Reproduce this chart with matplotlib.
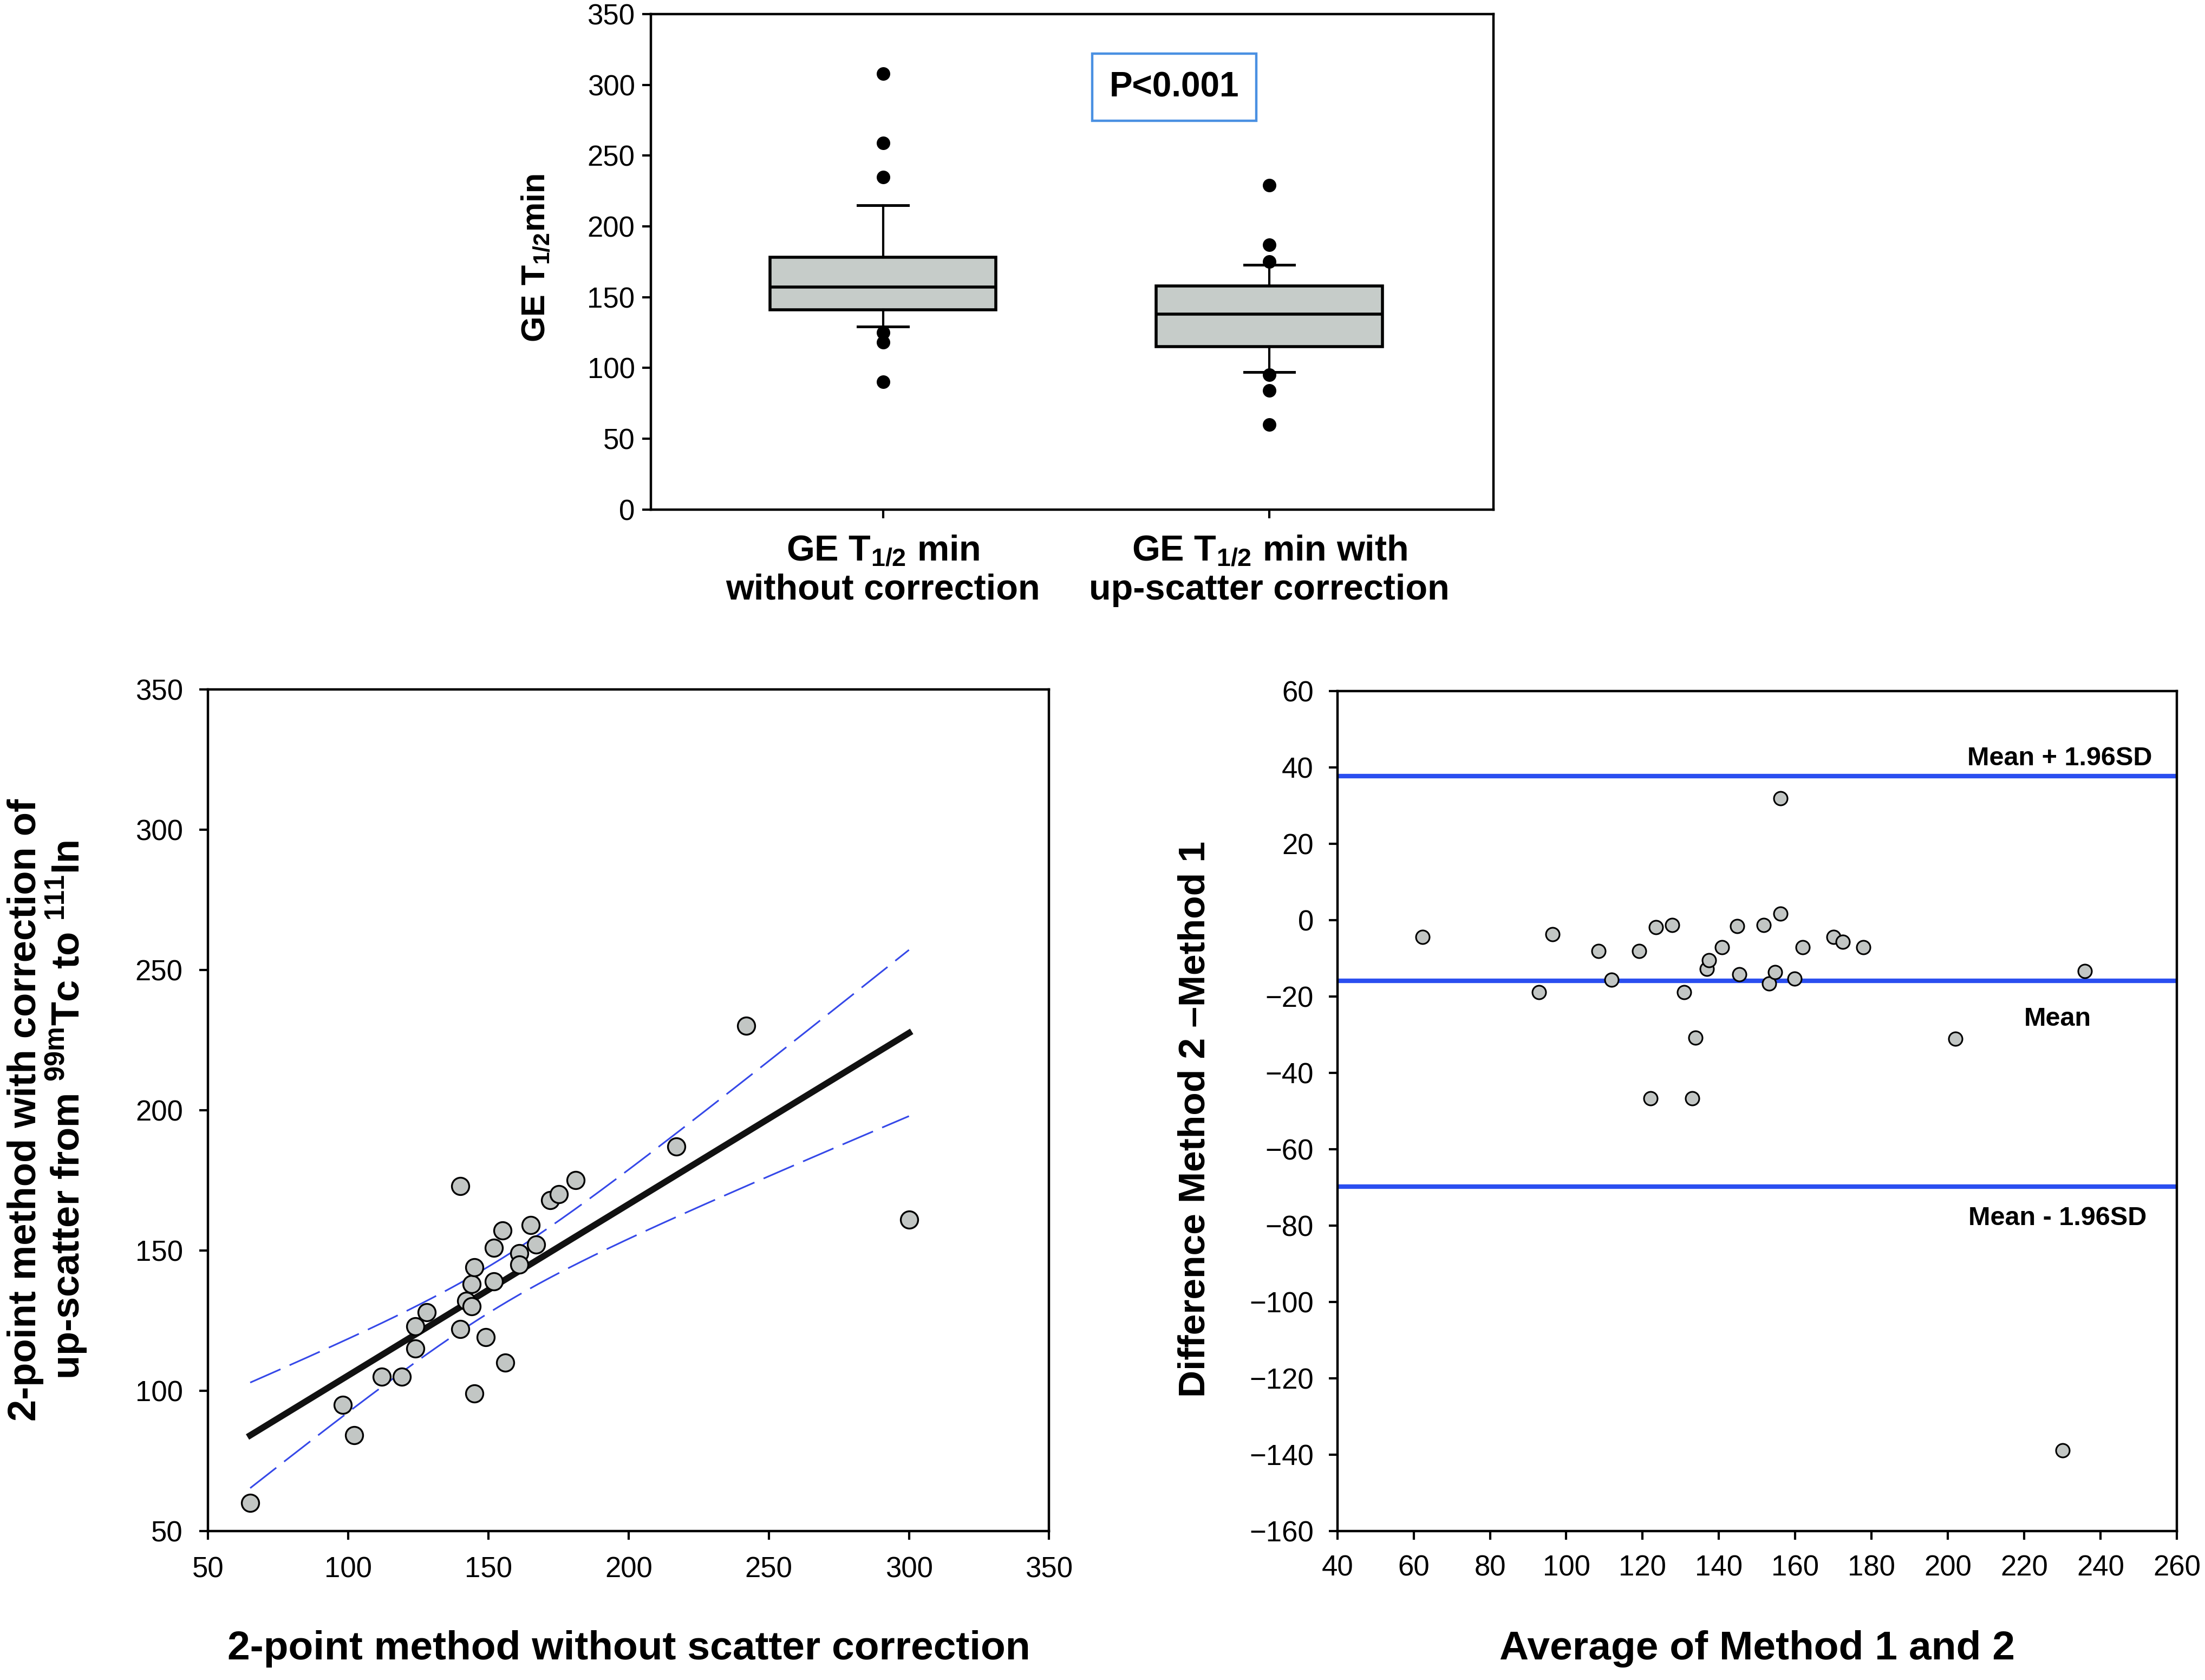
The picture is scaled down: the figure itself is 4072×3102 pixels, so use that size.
import numpy as np
import matplotlib
matplotlib.use("Agg")
import matplotlib.pyplot as plt

plt.rcParams['font.family'] = ['Liberation Sans', 'DejaVu Sans']
plt.rcParams['mathtext.fontset'] = 'custom'
plt.rcParams['mathtext.rm'] = 'Liberation Sans:bold'
plt.rcParams['mathtext.bf'] = 'Liberation Sans:bold'
plt.rcParams['mathtext.default'] = 'bf'

# --- box plot ---
box_labels = [r'GE T$_{1/2}$ min' + '\nwithout correction',
              r'GE T$_{1/2}$ min with' + '\nup-scatter correction']
box_q1 = [141, 115]
box_med = [157, 138]
box_q3 = [178, 158]
box_wlo = [129, 97]
box_whi = [215, 173]
box_fliers = [[308, 259, 235, 125, 118, 90],
              [229, 187, 175, 95, 84, 60]]
p_text = 'P<0.001'

# --- 2-point method scatter ---
x_nocorr = [65, 98, 102, 112, 119, 124, 124, 128, 140, 140, 142, 144, 144, 145, 145,
            149, 152, 152, 155, 156, 161, 161, 165, 167, 172, 175, 181, 217, 242, 300]
y_corr = [60, 95, 84, 105, 105, 115, 123, 128, 173, 122, 132, 130, 138, 144, 99,
          119, 139, 151, 157, 110, 149, 145, 159, 152, 168, 170, 175, 187, 230, 161]

# --- Bland-Altman ---
ba_avg = [62.3, 92.9, 96.4, 108.5, 111.8, 119.1, 122.1, 123.5, 127.8, 130.9,
          133.0, 133.9, 136.9, 137.4, 140.8, 144.8, 145.4, 151.7, 153.2, 154.7,
          156.2, 156.2, 159.8, 161.9, 170.0, 172.5, 177.9, 202.0, 230.1, 235.9]
ba_diff = [-4.5, -18.9, -3.8, -8.1, -15.7, -8.1, -46.7, -1.9, -1.3, -18.9,
           -46.7, -30.8, -12.8, -10.5, -7.1, -1.6, -14.2, -1.3, -16.6, -13.7,
           31.8, 1.6, -15.4, -7.1, -4.5, -5.8, -7.1, -31.1, -139.0, -13.4]
ba_mean = -16.0
ba_upper = 37.6
ba_lower = -69.8

fig = plt.figure(figsize=(20.36, 15.51), dpi=200)

def style(ax, pad):
    for s in ax.spines.values():
        s.set_linewidth(1.6)
    ax.tick_params(direction='out', length=5.8, width=1.5, labelsize=19, pad=pad,
                   top=False, right=False)

# top: box plot
ax1 = fig.add_axes([0.2953, 0.6968, 0.382, 0.2948])
stats = []
for i in range(2):
    stats.append(dict(med=box_med[i], q1=box_q1[i], q3=box_q3[i],
                      whislo=box_wlo[i], whishi=box_whi[i], fliers=box_fliers[i]))
ax1.bxp(stats, positions=[1, 2], widths=0.585, patch_artist=True,
        boxprops=dict(facecolor='#c6ccc9', edgecolor='black', linewidth=2),
        medianprops=dict(color='black', linewidth=2),
        whiskerprops=dict(color='black', linewidth=1.5),
        capprops=dict(color='black', linewidth=1.8),
        capwidths=0.13,
        flierprops=dict(marker='o', markerfacecolor='black', markeredgecolor='black',
                        markersize=8))
ax1.set_xlim(0.40, 2.58)
ax1.set_ylim(0, 350)
ax1.set_yticks(np.arange(0, 351, 50))
ax1.set_xticks([1, 2])
ax1.set_xticklabels(box_labels, fontsize=24, fontweight='bold', linespacing=1.2)
style(ax1, 5)
ax1.tick_params(axis='x', labelsize=24, pad=11)
ax1.set_ylabel(r'GE T$_{1/2}$min', fontsize=22, fontweight='bold')
ax1.yaxis.set_label_coords(-0.118, 0.508)
ax1.text(0.621, 0.852, p_text, transform=ax1.transAxes, ha='center', va='center',
         fontsize=23, fontweight='bold',
         bbox=dict(boxstyle='square,pad=0.5', facecolor='white',
                   edgecolor='#4a90e2', linewidth=1.6))

# bottom left: scatter with regression and 95% CI
ax2 = fig.add_axes([0.0944, 0.0888, 0.3814, 0.5008])
xs = np.array(x_nocorr, dtype=float)
ys = np.array(y_corr, dtype=float)
slope, icpt = np.polyfit(xs, ys, 1)
xf = np.linspace(xs.min(), xs.max(), 200)
yf = icpt + slope * xf
n = len(xs)
resid = ys - (icpt + slope * xs)
s = np.sqrt(np.sum(resid ** 2) / (n - 2))
sxx = np.sum((xs - xs.mean()) ** 2)
half = 2.048 * s * np.sqrt(1.0 / n + (xf - xs.mean()) ** 2 / sxx)
ax2.plot(xf, yf + half, color='#3548e8', linewidth=1.1, dashes=(20, 6), zorder=2)
ax2.plot(xf, yf - half, color='#3548e8', linewidth=1.1, dashes=(20, 6), zorder=2)
ax2.plot(xf, yf, color='#111111', linewidth=4.2, zorder=3)
ax2.plot(xs, ys, 'o', markersize=11.5, markerfacecolor='#c2c6c4',
         markeredgecolor='black', markeredgewidth=1.2, zorder=4)
ax2.set_xlim(50, 350)
ax2.set_ylim(50, 350)
ax2.set_xticks(np.arange(50, 351, 50))
ax2.set_yticks(np.arange(50, 351, 50))
style(ax2, 11)
ax2.set_xlabel('2-point method without scatter correction', fontsize=27,
               fontweight='bold', va='top')
ax2.xaxis.set_label_coords(0.5, -0.118)
ax2.set_ylabel('2-point method with correction of\n'
               r'up-scatter from $^{99m}$Tc to $^{111}$In',
               fontsize=26, fontweight='bold', linespacing=1.0)
ax2.yaxis.set_label_coords(-0.142, 0.5)

# bottom right: Bland-Altman
ax3 = fig.add_axes([0.6065, 0.0888, 0.3807, 0.5000])
for yv in [ba_upper, ba_mean, ba_lower]:
    ax3.axhline(yv, color='#2a4ef0', linewidth=3, zorder=2)
ax3.plot(ba_avg, ba_diff, 'o', markersize=9, markerfacecolor='#c2c6c4',
         markeredgecolor='black', markeredgewidth=1.1, zorder=4)
ax3.text(253.5, ba_upper + 1.5, 'Mean + 1.96SD', ha='right', va='bottom',
         fontsize=17.5, fontweight='bold')
ax3.text(228.7, -25.9, 'Mean', ha='center', va='center', fontsize=17.5,
         fontweight='bold')
ax3.text(228.7, -78.2, 'Mean - 1.96SD', ha='center', va='center', fontsize=17.5,
         fontweight='bold')
ax3.set_xlim(40, 260)
ax3.set_ylim(-160, 60)
ax3.set_xticks(np.arange(40, 261, 20))
ax3.set_yticks(np.arange(-160, 61, 20))
style(ax3, 10)
ax3.set_xlabel('Average of Method 1 and 2', fontsize=27, fontweight='bold', va='top')
ax3.xaxis.set_label_coords(0.5, -0.118)
ax3.set_ylabel('Difference Method 2 \u2013Method 1', fontsize=25, fontweight='bold')
ax3.yaxis.set_label_coords(-0.149, 0.49)

fig.savefig('out.png', dpi=200, facecolor='white')
